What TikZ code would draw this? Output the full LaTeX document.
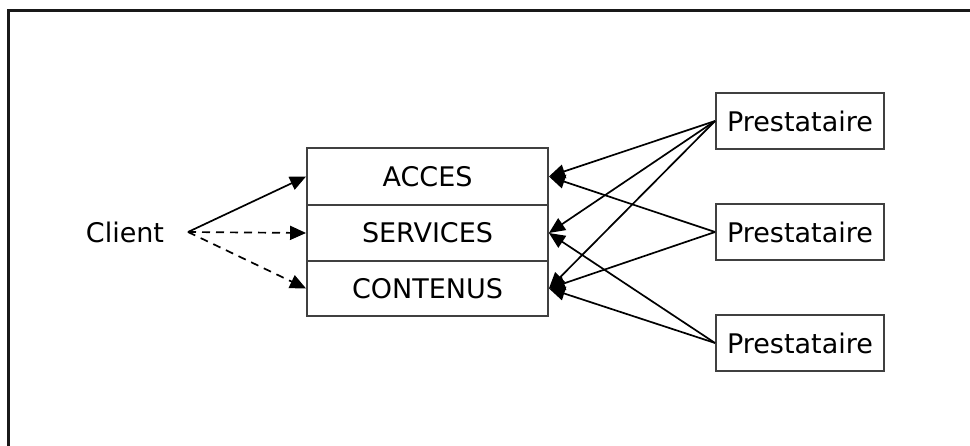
\documentclass[tikz,border=0pt]{standalone}
\usepackage{fontspec}
\setmainfont{DejaVu Sans}
\usetikzlibrary{arrows.meta}
\begin{document}
\begin{tikzpicture}[x=1bp,y=-1bp,
  every node/.style={font=\fontsize{27bp}{32bp}\selectfont, text=black},
  layerbox/.style={draw=black!75, line width=1.9bp, minimum width=241bp, inner sep=0pt},
  provbox/.style={draw=black!75, line width=1.9bp, minimum width=168bp, minimum height=56bp, inner sep=0pt},
  conn/.style={line width=1.7bp, -{Triangle[length=16bp,width=14bp]}},
  dconn/.style={conn, dash pattern=on 8bp off 6bp}
]
\useasboundingbox (0,0) rectangle (970,446);
\draw[line width=2.5bp, black!90] (8.7,446) -- (8.7,10.3) -- (970,10.3);

\node[layerbox, minimum height=57bp] (acces) at (427.5,176.5) {ACCES};
\node[layerbox, minimum height=56bp] (serv) at (427.5,233) {SERVICES};
\node[layerbox, minimum height=55bp] (cont) at (427.5,288.5) {CONTENUS};

\node (client) at (125,232) {Client};
\coordinate (cs) at (188,232);

\node[provbox] (p1) at (800,121) {Prestataire};
\node[provbox] (p2) at (800,232) {Prestataire};
\node[provbox] (p3) at (800,343) {Prestataire};

\draw[conn] (cs) -- (acces.west);
\draw[dconn] (cs) -- (serv.west);
\draw[dconn] (cs) -- (cont.west);

\draw[conn] (p1.west) -- (acces.east);
\draw[conn] (p1.west) -- (serv.east);
\draw[conn] (p1.west) -- (cont.east);
\draw[conn] (p2.west) -- (acces.east);
\draw[conn] (p2.west) -- (cont.east);
\draw[conn] (p3.west) -- (serv.east);
\draw[conn] (p3.west) -- (cont.east);
\end{tikzpicture}
\end{document}
